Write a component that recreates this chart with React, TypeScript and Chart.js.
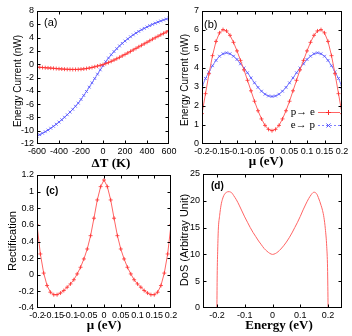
import React, { useEffect, useRef } from 'react';
import { Chart, registerables } from 'chart.js';

Chart.register(...registerables);

// ---------- Panel (a): energy current vs ΔT ----------
const aDeltaT = [-600, -575, -550, -525, -500, -475, -450, -425, -400, -375, -350, -325, -300, -275, -250, -225, -200, -175, -150, -125, -100, -75, -50, -25, 0, 25, 50, 75, 100, 125, 150, 175, 200, 225, 250, 275, 300, 325, 350, 375, 400, 425, 450, 475, 500, 525, 550, 575, 600];
const aRed = [-0.45, -0.47, -0.5, -0.53, -0.56, -0.59, -0.62, -0.66, -0.69, -0.72, -0.75, -0.77, -0.78, -0.79, -0.79, -0.78, -0.75, -0.71, -0.65, -0.58, -0.49, -0.39, -0.28, -0.17, -0.06, 0.09, 0.25, 0.43, 0.62, 0.82, 1.03, 1.25, 1.47, 1.69, 1.92, 2.15, 2.38, 2.61, 2.84, 3.07, 3.3, 3.53, 3.76, 3.98, 4.2, 4.42, 4.63, 4.84, 5.05];
const aBlue = [-10.8, -10.6, -10.38, -10.15, -9.9, -9.63, -9.34, -9.03, -8.7, -8.35, -7.98, -7.6, -7.2, -6.78, -6.33, -5.85, -5.3, -4.7, -4.1, -3.45, -2.8, -2.15, -1.5, -0.85, -0.22, 0.38, 0.93, 1.43, 1.9, 2.34, 2.75, 3.13, 3.48, 3.81, 4.12, 4.41, 4.68, 4.93, 5.17, 5.39, 5.6, 5.8, 5.99, 6.17, 6.34, 6.5, 6.65, 6.79, 6.92];
const aXTicks = [-600, -400, -200, 0, 200, 400, 600];
const aYTicks = [-12, -10, -8, -6, -4, -2, 0, 2, 4, 6, 8];

// ---------- Panel (b): energy current vs μ ----------
const mu = [-0.2, -0.19, -0.18, -0.17, -0.16, -0.15, -0.14, -0.13, -0.12, -0.11, -0.1, -0.09, -0.08, -0.07, -0.06, -0.05, -0.04, -0.03, -0.02, -0.01, 0, 0.01, 0.02, 0.03, 0.04, 0.05, 0.06, 0.07, 0.08, 0.09, 0.1, 0.11, 0.12, 0.13, 0.14, 0.15, 0.16, 0.17, 0.18, 0.19, 0.2];
const bPtoE = [1.6, 2.65, 3.7, 4.65, 5.4, 5.85, 6.02, 5.95, 5.72, 5.35, 4.9, 4.4, 3.9, 3.35, 2.8, 2.25, 1.75, 1.32, 0.98, 0.77, 0.7, 0.77, 0.98, 1.32, 1.75, 2.25, 2.8, 3.35, 3.9, 4.4, 4.9, 5.35, 5.72, 5.95, 6.02, 5.85, 5.4, 4.65, 3.7, 2.65, 1.6];
const bEtoP = [3.0, 3.45, 3.8, 4.12, 4.4, 4.62, 4.75, 4.8, 4.75, 4.62, 4.45, 4.22, 4.0, 3.75, 3.48, 3.22, 2.98, 2.78, 2.62, 2.53, 2.5, 2.53, 2.62, 2.78, 2.98, 3.22, 3.48, 3.75, 4.0, 4.22, 4.45, 4.62, 4.75, 4.8, 4.75, 4.62, 4.4, 4.12, 3.8, 3.45, 3.0];
const muTicks = [-0.2, -0.15, -0.1, -0.05, 0, 0.05, 0.1, 0.15, 0.2];
const bYTicks = [0, 1, 2, 3, 4, 5, 6, 7];
const bLegend = ['p\u2192 e', 'e\u2192 p'];

// ---------- Panel (c): rectification vs μ ----------
const cRect = [0.6, 0.25, 0.02, -0.13, -0.21, -0.24, -0.24, -0.22, -0.19, -0.15, -0.11, -0.06, 0.01, 0.09, 0.19, 0.31, 0.47, 0.68, 0.9, 1.06, 1.14, 1.06, 0.9, 0.68, 0.47, 0.31, 0.19, 0.09, 0.01, -0.06, -0.11, -0.15, -0.19, -0.22, -0.24, -0.24, -0.21, -0.13, 0.02, 0.25, 0.6];
const cYTicks = [-0.4, -0.2, 0, 0.2, 0.4, 0.6, 0.8, 1, 1.2];

// ---------- Panel (d): DoS vs energy ----------
const dEnergy = [-0.2, -0.199, -0.197, -0.195, -0.19, -0.185, -0.18, -0.175, -0.17, -0.165, -0.16, -0.155, -0.15, -0.145, -0.14, -0.13, -0.12, -0.11, -0.1, -0.09, -0.08, -0.07, -0.06, -0.05, -0.04, -0.03, -0.02, -0.01, 0, 0.01, 0.02, 0.03, 0.04, 0.05, 0.06, 0.07, 0.08, 0.09, 0.1, 0.11, 0.12, 0.13, 0.14, 0.145, 0.15, 0.155, 0.16, 0.165, 0.17, 0.175, 0.18, 0.185, 0.19, 0.195, 0.198, 0.2];
const dDos = [0, 6, 11, 14.5, 17.3, 19.2, 20.3, 21.0, 21.4, 21.6, 21.7, 21.7, 21.6, 21.4, 21.0, 20.2, 19.2, 18.1, 17.0, 16.0, 15.0, 14.1, 13.3, 12.5, 11.8, 11.1, 10.6, 10.2, 10.0, 10.15, 10.5, 11.0, 11.6, 12.3, 13.1, 14.0, 15.0, 16.0, 17.1, 18.3, 19.4, 20.4, 21.2, 21.5, 21.6, 21.5, 21.2, 20.6, 19.9, 19.1, 18.2, 16.9, 14.8, 11.5, 7.5, 0];
const dXTicks = [-0.2, -0.1, 0, 0.1, 0.2];
const dYTicks = [0, 5, 10, 15, 20, 25];

// ---------- styling ----------
const CW = 352;
const CH = 336;
const SANS = "'Liberation Sans', Arial, sans-serif";
const SERIF = "'Liberation Serif', 'Times New Roman', serif";
const RED_LINE = '#ff6464';
const RED_PT = '#ff3030';
const BLUE_LINE = '#8080ff';
const BLUE_PT = '#5050ff';
const Y_AXIS_W = 30;
const X_AXIS_H = 14;

const fmt = (v: any) => String(Number(Number(v).toFixed(2)));

function xScale(min: number, max: number, ticks: number[]) {
  return {
    type: 'linear',
    min,
    max,
    afterBuildTicks: (s: any) => {
      s.ticks = ticks.map((v) => ({ value: v }));
    },
    afterFit: (s: any) => {
      s.height = X_AXIS_H;
      s.paddingLeft = 0;
      s.paddingRight = 0;
    },
    grid: { display: false, drawTicks: false },
    border: { display: false },
    ticks: {
      font: { family: SANS, size: 9 },
      color: '#000',
      padding: 2,
      autoSkip: false,
      maxRotation: 0,
      minRotation: 0,
      callback: fmt,
    },
  };
}

function yScale(min: number, max: number, ticks: number[]) {
  return {
    type: 'linear',
    min,
    max,
    afterBuildTicks: (s: any) => {
      s.ticks = ticks.map((v) => ({ value: v }));
    },
    afterFit: (s: any) => {
      s.width = Y_AXIS_W;
      s.paddingTop = 0;
      s.paddingBottom = 0;
    },
    grid: { display: false, drawTicks: false },
    border: { display: false },
    ticks: {
      font: { family: SANS, size: 9 },
      color: '#000',
      padding: 3,
      autoSkip: false,
      callback: fmt,
    },
  };
}

type Decor = {
  xTitle: string;
  xTitlePos: [number, number];
  yTitle: string;
  yTitlePos: [number, number];
  yTitleSize: number;
  label: string;
  labelPos: [number, number];
  labelFont: string;
  legend?: boolean;
};

function drawPlus(ctx: CanvasRenderingContext2D, x: number, y: number, r: number) {
  ctx.beginPath();
  ctx.moveTo(x - r, y);
  ctx.lineTo(x + r, y);
  ctx.moveTo(x, y - r);
  ctx.lineTo(x, y + r);
  ctx.stroke();
}
function drawX(ctx: CanvasRenderingContext2D, x: number, y: number, r: number) {
  ctx.beginPath();
  ctx.moveTo(x - r, y - r);
  ctx.lineTo(x + r, y + r);
  ctx.moveTo(x - r, y + r);
  ctx.lineTo(x + r, y - r);
  ctx.stroke();
}

function makeDecor(d: Decor) {
  return {
    id: 'decor',
    afterDraw(chart: any) {
      const ctx: CanvasRenderingContext2D = chart.ctx;
      const { left, right, top, bottom } = chart.chartArea;
      const L = Math.round(left) + 0.5;
      const R = Math.round(right) - 0.5;
      const T = Math.round(top) + 0.5;
      const B = Math.round(bottom) - 0.5;
      ctx.save();
      ctx.strokeStyle = '#000';
      ctx.lineWidth = 1;
      ctx.strokeRect(L, T, R - L, B - T);
      const tl = 3;
      const xs = chart.scales.x;
      const ys = chart.scales.y;
      ctx.beginPath();
      xs.ticks.forEach((t: any) => {
        const px = Math.round(xs.getPixelForValue(t.value)) + 0.5;
        if (px <= L + 1 || px >= R - 1) return;
        ctx.moveTo(px, B);
        ctx.lineTo(px, B - tl);
        ctx.moveTo(px, T);
        ctx.lineTo(px, T + tl);
      });
      ys.ticks.forEach((t: any) => {
        const py = Math.round(ys.getPixelForValue(t.value)) + 0.5;
        if (py <= T + 1 || py >= B - 1) return;
        ctx.moveTo(L, py);
        ctx.lineTo(L + tl, py);
        ctx.moveTo(R, py);
        ctx.lineTo(R - tl, py);
      });
      ctx.stroke();

      ctx.fillStyle = '#000';
      ctx.textBaseline = 'middle';
      // x title
      ctx.font = `bold 13px ${SERIF}`;
      ctx.textAlign = 'center';
      ctx.fillText(d.xTitle, d.xTitlePos[0], d.xTitlePos[1]);
      // y title
      ctx.save();
      ctx.translate(d.yTitlePos[0], d.yTitlePos[1]);
      ctx.rotate(-Math.PI / 2);
      ctx.font = `${d.yTitleSize}px ${SANS}`;
      ctx.fillText(d.yTitle, 0, 0);
      ctx.restore();
      // panel label
      ctx.font = d.labelFont;
      ctx.textAlign = 'left';
      ctx.fillText(d.label, d.labelPos[0], d.labelPos[1]);

      if (d.legend) {
        ctx.font = `11px ${SERIF}`;
        ctx.textAlign = 'right';
        ctx.fillText(bLegend[0], 315, 112);
        ctx.fillText(bLegend[1], 315, 125);
        ctx.lineWidth = 1;
        ctx.strokeStyle = RED_LINE;
        ctx.beginPath();
        ctx.moveTo(318, 112.5);
        ctx.lineTo(340, 112.5);
        ctx.stroke();
        ctx.strokeStyle = RED_PT;
        drawPlus(ctx, 328.5, 112.5, 2.5);
        ctx.strokeStyle = BLUE_LINE;
        ctx.setLineDash([2, 2]);
        ctx.beginPath();
        ctx.moveTo(318, 125.5);
        ctx.lineTo(340, 125.5);
        ctx.stroke();
        ctx.setLineDash([]);
        ctx.strokeStyle = BLUE_PT;
        drawX(ctx, 328.5, 125.5, 2);
      }
      ctx.restore();
    },
  };
}

function pts(xs: number[], ys: number[]) {
  return xs.map((x, i) => ({ x, y: ys[i] }));
}

function redSet(data: any[]) {
  return {
    data,
    borderColor: RED_LINE,
    borderWidth: 1,
    pointStyle: 'cross',
    pointRadius: 2,
    pointBorderColor: RED_PT,
    pointBackgroundColor: RED_PT,
    pointBorderWidth: 0.8,
    tension: 0,
  };
}
function blueSet(data: any[]) {
  return {
    data,
    borderColor: BLUE_LINE,
    borderWidth: 1,
    pointStyle: 'crossRot',
    pointRadius: 2,
    pointBorderColor: BLUE_PT,
    pointBackgroundColor: BLUE_PT,
    pointBorderWidth: 0.8,
    tension: 0,
  };
}

function baseOptions(pad: { left: number; top: number; right: number; bottom: number }, scales: any, decor: Decor) {
  return {
    options: {
      responsive: false,
      animation: false,
      events: [],
      layout: { padding: pad },
      plugins: { legend: { display: false }, tooltip: { enabled: false } },
      scales,
    },
    plugins: [makeDecor(decor)],
  };
}

function configA() {
  const b = baseOptions(
    { left: 37 - Y_AXIS_W, top: 11, right: CW - 169, bottom: CH - 144 - X_AXIS_H },
    { x: xScale(-600, 600, aXTicks), y: yScale(-12, 8, aYTicks) },
    {
      xTitle: '\u0394T (K)', xTitlePos: [111, 164],
      yTitle: 'Energy Current (nW)', yTitlePos: [18, 81], yTitleSize: 10,
      label: '(a)', labelPos: [44, 23], labelFont: `11px ${SANS}`,
    }
  );
  return {
    type: 'line',
    data: { datasets: [redSet(pts(aDeltaT, aRed)), blueSet(pts(aDeltaT, aBlue))] },
    ...b,
  };
}

function configB() {
  const b = baseOptions(
    { left: 202 - Y_AXIS_W, top: 11, right: CW - 342, bottom: CH - 144 - X_AXIS_H },
    { x: xScale(-0.2, 0.2, muTicks), y: yScale(0, 7, bYTicks) },
    {
      xTitle: '\u03bc (eV)', xTitlePos: [266, 162],
      yTitle: 'Energy Current (nW)', yTitlePos: [185, 80], yTitleSize: 10,
      label: '(b)', labelPos: [204, 25], labelFont: `11px ${SANS}`,
      legend: true,
    }
  );
  return {
    type: 'line',
    data: { datasets: [redSet(pts(mu, bPtoE)), blueSet(pts(mu, bEtoP))] },
    ...b,
  };
}

function configC() {
  const b = baseOptions(
    { left: 37 - Y_AXIS_W, top: 175, right: CW - 171, bottom: CH - 308 - X_AXIS_H },
    { x: xScale(-0.2, 0.2, muTicks), y: yScale(-0.4, 1.2, cYTicks) },
    {
      xTitle: '\u03bc (eV)', xTitlePos: [104, 326],
      yTitle: 'Rectification', yTitlePos: [13, 241], yTitleSize: 11,
      label: '(c)', labelPos: [46, 191], labelFont: `bold 10px ${SANS}`,
    }
  );
  return {
    type: 'line',
    data: { datasets: [redSet(pts(mu, cRect))] },
    ...b,
  };
}

function configD() {
  const b = baseOptions(
    { left: 203 - Y_AXIS_W, top: 174, right: CW - 342, bottom: CH - 308 - X_AXIS_H },
    { x: xScale(-0.25, 0.25, dXTicks), y: yScale(0, 25, dYTicks) },
    {
      xTitle: 'Energy (eV)', xTitlePos: [279, 326],
      yTitle: 'DoS (Arbitray Unit)', yTitlePos: [185, 240], yTitleSize: 11,
      label: '(d)', labelPos: [211, 186], labelFont: `bold 10px ${SANS}`,
    }
  );
  return {
    type: 'line',
    data: {
      datasets: [
        {
          data: pts(dEnergy, dDos),
          borderColor: RED_LINE,
          borderWidth: 1,
          pointRadius: 0,
          tension: 0.4,
          cubicInterpolationMode: 'monotone',
        },
      ],
    },
    ...b,
  };
}

export default function App() {
  const refA = useRef<HTMLCanvasElement>(null);
  const refB = useRef<HTMLCanvasElement>(null);
  const refC = useRef<HTMLCanvasElement>(null);
  const refD = useRef<HTMLCanvasElement>(null);

  useEffect(() => {
    const charts: Chart[] = [];
    const pairs: [HTMLCanvasElement | null, any][] = [
      [refA.current, configA()],
      [refB.current, configB()],
      [refC.current, configC()],
      [refD.current, configD()],
    ];
    pairs.forEach(([c, cfg]) => {
      if (c) charts.push(new Chart(c, cfg));
    });
    return () => charts.forEach((ch) => ch.destroy());
  }, []);

  const cstyle: React.CSSProperties = { position: 'absolute', left: 0, top: 0, width: CW, height: CH };
  return (
    <div style={{ position: 'absolute', left: 0, top: 0, width: CW, height: CH, background: '#fff' }}>
      <canvas ref={refA} width={CW} height={CH} style={cstyle} />
      <canvas ref={refB} width={CW} height={CH} style={cstyle} />
      <canvas ref={refC} width={CW} height={CH} style={cstyle} />
      <canvas ref={refD} width={CW} height={CH} style={cstyle} />
    </div>
  );
}
